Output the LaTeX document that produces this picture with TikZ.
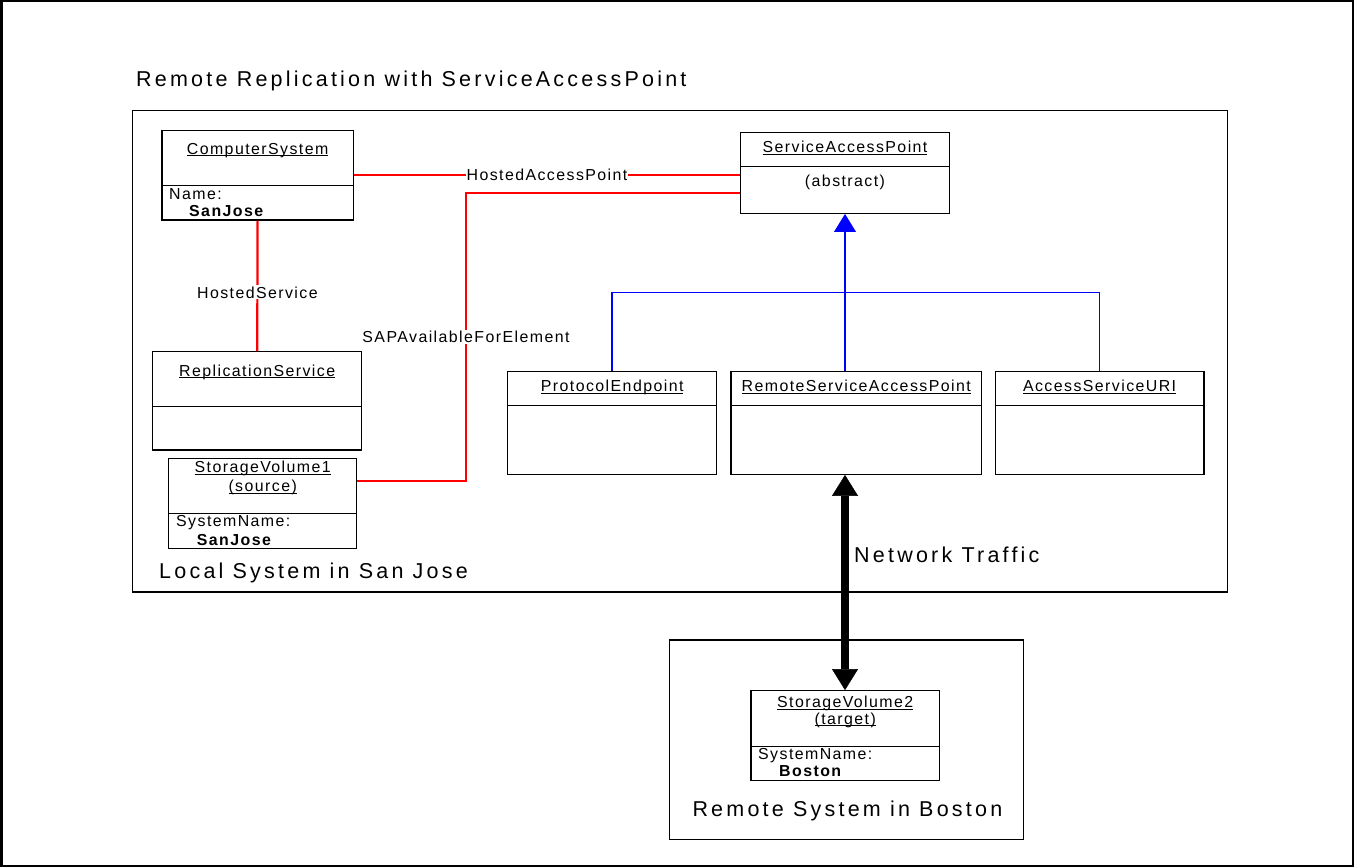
\documentclass[tikz,border=0pt]{standalone}
\usepackage{fontspec}
\usetikzlibrary{arrows.meta,positioning}
\newfontfamily\boxfont[LetterSpace=9]{Liberation Sans}
\newfontfamily\bigfont[LetterSpace=15]{Liberation Sans}
\newcommand{\ulname}[1]{\setbox0=\hbox{#1}\rlap{\rule[-2.2pt]{\wd0}{1pt}}\box0}

\begin{document}
\begin{tikzpicture}[x=1pt, y=-1pt,
    boxtxt/.style={font=\boxfont\fontsize{15.9}{19}\selectfont, inner sep=0pt},
    bigtxt/.style={font=\bigfont\fontsize{21.5}{25}\selectfont, inner sep=0pt},
    umlbox/.style={draw, line width=1.2pt, inner sep=0pt, fill=white},
    sysbox/.style={draw, line width=1.2pt, inner sep=0pt},
    divider/.style={line width=1.2pt},
    assoc/.style={draw=red, line width=2.2pt},
    linelbl/.style={boxtxt, fill=white, inner sep=1pt},
    inherit/.style={draw=blue, line width=1.5pt},
    traffic/.style={line width=8pt,
        arrows={Triangle[length=21pt,width=26pt,line width=0.5pt]-Triangle[length=21pt,width=26pt,line width=0.5pt]}}]
    \useasboundingbox (0,0) rectangle (1354,867);
    \draw[line width=2.5pt] (1.25,1.25) rectangle (1352.75,865.75);
    \node[bigtxt, anchor=base west] (title) at (136,86.7) {Remote Replication with ServiceAccessPoint};

    % the two systems
    \node[sysbox, minimum width=1095.2pt, minimum height=481.5pt] (local) at (679.9,351.2) {};
    \node[bigtxt, anchor=base west] (locallbl) at (159,578) {Local System in San Jose};
    \node[sysbox, minimum width=354pt, minimum height=199.3pt] (remote) at (846.3,739.7) {};
    \node[bigtxt, anchor=base west] (remotelbl) at (692.3,816.7) {Remote System in Boston};

    % classes on the local side
    \node[umlbox, minimum width=191.3pt, minimum height=89.3pt] (cs) at (257.6,175.3) {};
    \draw[divider] ([yshift=-55.3pt]cs.north west) -- ([yshift=-55.3pt]cs.north east);
    \node[boxtxt, anchor=base] (cstitle) at (257.6,154) {\ulname{ComputerSystem}};
    \node[boxtxt, anchor=base west] (csattr) at (169,199) {Name:};
    \node[boxtxt, anchor=base west] (csval) at (189,216.7) {\bfseries SanJose};

    \node[umlbox, minimum width=209pt, minimum height=98.3pt] (rs) at (257.2,400.8) {};
    \draw[divider] ([yshift=-55.6pt]rs.north west) -- ([yshift=-55.6pt]rs.north east);
    \node[boxtxt, anchor=base] (rstitle) at (257.2,376) {\ulname{ReplicationService}};

    \node[umlbox, minimum width=188pt, minimum height=90pt] (sv1) at (262.7,503.3) {};
    \draw[divider] ([yshift=-55.7pt]sv1.north west) -- ([yshift=-55.7pt]sv1.north east);
    \node[boxtxt, anchor=base] (sv1title) at (262.7,472.7) {\ulname{StorageVolume1}};
    \node[boxtxt, anchor=base] (sv1role) at (262.7,491.7) {\ulname{(source)}};
    \node[boxtxt, anchor=base west] (sv1attr) at (176,526.7) {SystemName:};
    \node[boxtxt, anchor=base west] (sv1val) at (196.7,545) {\bfseries SanJose};

    \node[umlbox, minimum width=208.6pt, minimum height=80.6pt] (sap) at (845,173) {};
    \draw[divider] ([yshift=-34pt]sap.north west) -- ([yshift=-34pt]sap.north east);
    \node[boxtxt, anchor=base] (saptitle) at (845,152.7) {\ulname{ServiceAccessPoint}};
    \node[boxtxt, anchor=base] (sapabs) at (845,186.5) {(abstract)};

    \node[umlbox, minimum width=209.3pt, minimum height=102.6pt] (pe) at (612.2,423) {};
    \draw[divider] ([yshift=-34pt]pe.north west) -- ([yshift=-34pt]pe.north east);
    \node[boxtxt, anchor=base] (petitle) at (612.2,391.7) {\ulname{ProtocolEndpoint}};

    \node[umlbox, minimum width=250.5pt, minimum height=102.6pt] (rsap) at (856.2,423) {};
    \draw[divider] ([yshift=-34pt]rsap.north west) -- ([yshift=-34pt]rsap.north east);
    \node[boxtxt, anchor=base] (rsaptitle) at (856.2,391.7) {\ulname{RemoteServiceAccessPoint}};

    \node[umlbox, minimum width=208.8pt, minimum height=102.6pt] (asu) at (1099.6,423) {};
    \draw[divider] ([yshift=-34pt]asu.north west) -- ([yshift=-34pt]asu.north east);
    \node[boxtxt, anchor=base] (asutitle) at (1099.6,391.7) {\ulname{AccessServiceURI}};

    % class on the remote side
    \node[umlbox, minimum width=188.3pt, minimum height=90pt] (sv2) at (845.2,735.7) {};
    \draw[divider] ([yshift=-56pt]sv2.north west) -- ([yshift=-56pt]sv2.north east);
    \node[boxtxt, anchor=base] (sv2title) at (845.2,707.3) {\ulname{StorageVolume2}};
    \node[boxtxt, anchor=base] (sv2role) at (845.2,724) {\ulname{(target)}};
    \node[boxtxt, anchor=base west] (sv2attr) at (758,759.3) {SystemName:};
    \node[boxtxt, anchor=base west] (sv2val) at (779,776.7) {\bfseries Boston};

    % associations
    \draw[assoc] (cs.east) -- node[linelbl, pos=0.5] (hap) {HostedAccessPoint} (cs.east -| sap.west);
    \draw[assoc] (cs.south) -- node[linelbl, pos=0.55] (hs) {HostedService} (rs.north);
    \coordinate (sapbend) at (466,337);
    \draw[assoc] ([yshift=-20pt]sap.west) -| (sapbend) |- ([yshift=22.3pt]sv1.east);
    \node[linelbl] (sapae) at (sapbend) {SAPAvailableForElement};

    % inheritance
    \coordinate (bus) at (845,292.7);
    \draw[inherit, -{Triangle[length=18pt,width=21.7pt]}] (bus) -- (sap.south);
    \draw[inherit] (pe.north) |- (bus) -| (asu.north);
    \draw[inherit] (bus) -- (bus |- rsap.north);

    % network traffic
    \draw[traffic] (bus |- rsap.south) -- (bus |- sv2.north);
    \node[bigtxt, anchor=base west] (nettxt) at (854,562.3) {Network Traffic};
\end{tikzpicture}
\end{document}
